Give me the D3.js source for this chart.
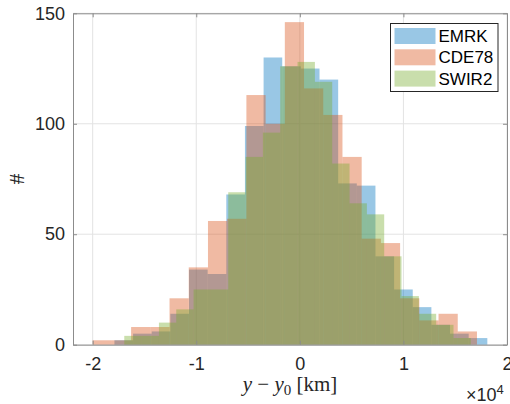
<!DOCTYPE html>
<html>
<head>
<meta charset="utf-8">
<script src="https://cdn.jsdelivr.net/npm/d3@7"></script>
<style>
  body { margin: 0; background: #fff; }
  svg { display: block; }
</style>
</head>
<body>
<svg id="chart"></svg>
<script>
// series names
const seriesNames = ["EMRK", "CDE78", "SWIR2"];
const seriesColors = ["#0072bd", "#d95319", "#77ac30"];

// histogram bins: first edge and bin width (km), 20 bins each
const binStart = [-17900, -20000, -16950];
const binWidth = [1800, 1855, 1673];

// counts per bin
const emrkCounts = [2, 5, 6, 14, 34, 32, 68, 99, 130, 126, 125, 120, 73, 72, 40, 25, 17, 9, 5, 3];
const cde78Counts = [2, 2, 8, 8, 21, 35, 56, 57, 113, 100, 146, 116, 104, 85, 48, 46, 21, 11, 14, 6];
const swir2Counts = [4, 4, 10, 16, 25, 25, 69, 85, 96, 126, 128, 119, 82, 64, 59, 40, 22, 14, 9, 3];

const xTicks = [-20000, -10000, 0, 10000, 20000];
const yTicks = [0, 50, 100, 150];

const width = 510;
const height = 404;
const margin = { top: 13.3, right: 3, bottom: 59.3, left: 73 };

const svg = d3.select("#chart").attr("width", width).attr("height", height);

const x = d3
  .scaleLinear()
  .domain([-21900, 20000])
  .range([margin.left, width - margin.right]);

const y = d3
  .scaleLinear()
  .domain([0, 150])
  .range([height - margin.bottom, margin.top]);

const font = "'Liberation Sans', Arial, sans-serif";
const axisColor = "#8c8c8c";

// grid
svg
  .append("g")
  .selectAll("line")
  .data(xTicks)
  .join("line")
  .attr("x1", (d) => x(d))
  .attr("x2", (d) => x(d))
  .attr("y1", y(0))
  .attr("y2", y(150))
  .attr("stroke", "#e3e3e3");

svg
  .append("g")
  .selectAll("line")
  .data(yTicks)
  .join("line")
  .attr("x1", x.range()[0])
  .attr("x2", x.range()[1])
  .attr("y1", (d) => y(d))
  .attr("y2", (d) => y(d))
  .attr("stroke", "#e3e3e3");

// bars
const allCounts = [emrkCounts, cde78Counts, swir2Counts];
allCounts.forEach((counts, s) => {
  svg
    .append("g")
    .selectAll("rect")
    .data(counts)
    .join("rect")
    .attr("x", (d, i) => x(binStart[s] + i * binWidth[s]))
    .attr("width", (d, i) => x(binStart[s] + (i + 1) * binWidth[s]) - x(binStart[s] + i * binWidth[s]))
    .attr("y", (d) => y(d))
    .attr("height", (d) => y(0) - y(d))
    .attr("fill", seriesColors[s])
    .attr("fill-opacity", 0.4);
});

// axes
const fmtX = (d) => String(d / 10000);

const xAxis = svg
  .append("g")
  .attr("transform", `translate(0,${y(0)})`)
  .call(d3.axisBottom(x).tickValues(xTicks).tickFormat(fmtX).tickSizeInner(-4).tickSizeOuter(0).tickPadding(12.5));

const yAxis = svg
  .append("g")
  .attr("transform", `translate(${x.range()[0]},0)`)
  .call(d3.axisLeft(y).tickValues(yTicks).tickSizeInner(-4).tickSizeOuter(0).tickPadding(8));

const xTop = svg
  .append("g")
  .attr("transform", `translate(0,${y(150)})`)
  .call(d3.axisTop(x).tickValues(xTicks).tickFormat("").tickSizeInner(-4).tickSizeOuter(0));

const yRight = svg
  .append("g")
  .attr("transform", `translate(${x.range()[1]},0)`)
  .call(d3.axisRight(y).tickValues(yTicks).tickFormat("").tickSizeInner(-4).tickSizeOuter(0));

[xAxis, yAxis, xTop, yRight].forEach((g) => {
  g.select(".domain").attr("stroke", axisColor);
  g.selectAll(".tick line").attr("stroke", axisColor);
  g.selectAll("text").attr("fill", "#262626").attr("font-family", font).attr("font-size", 18);
});

// axis labels
const xLabel = svg
  .append("text")
  .attr("x", (x.range()[0] + x.range()[1]) / 2)
  .attr("y", 391)
  .attr("text-anchor", "middle")
  .attr("font-family", "'Liberation Serif', 'DejaVu Serif', serif")
  .attr("font-size", 21)
  .attr("fill", "#262626");
xLabel.append("tspan").attr("font-style", "italic").text("y");
xLabel.append("tspan").text(" \u2212 ");
xLabel.append("tspan").attr("font-style", "italic").text("y");
xLabel.append("tspan").attr("font-size", 15).attr("dy", 4).text("0");
xLabel.append("tspan").attr("dy", -4).text("  [km]");

svg
  .append("text")
  .attr("transform", "translate(24,179) rotate(-90)")
  .attr("text-anchor", "middle")
  .attr("font-family", "'Liberation Serif', 'DejaVu Serif', serif")
  .attr("font-size", 22)
  .attr("fill", "#262626")
  .text("#");

// exponent
const expo = svg
  .append("text")
  .attr("x", 466)
  .attr("y", 401)
  .attr("font-family", font)
  .attr("font-size", 18)
  .attr("fill", "#262626");
expo.append("tspan").text("\u00d710");
expo.append("tspan").attr("font-size", 13).attr("dy", -7).text("4");

// legend
const legend = svg.append("g").attr("transform", "translate(390.5,23.5)");
legend
  .append("rect")
  .attr("width", 107.5)
  .attr("height", 68)
  .attr("fill", "#fff")
  .attr("stroke", "#262626");

seriesNames.forEach((name, i) => {
  const row = legend.append("g").attr("transform", `translate(4,${4.5 + i * 21.3})`);
  row
    .append("rect")
    .attr("width", 41)
    .attr("height", 16)
    .attr("fill", seriesColors[i])
    .attr("fill-opacity", 0.4);
  row
    .append("text")
    .attr("x", 44)
    .attr("y", 8)
    .attr("dy", "0.35em")
    .attr("font-family", font)
    .attr("font-size", 17)
    .attr("fill", "#000")
    .text(name);
});
</script>
</body>
</html>
